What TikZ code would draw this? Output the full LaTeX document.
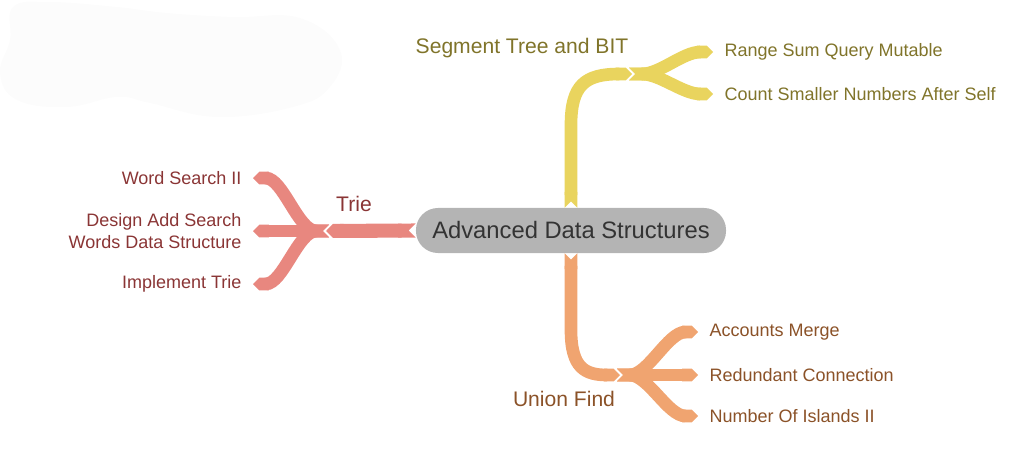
\documentclass[tikz,border=0pt]{standalone}
\usepackage{fontspec}
\setmainfont{Liberation Sans}
\usepackage{xcolor}
\usetikzlibrary{arrows.meta,positioning,calc}
\definecolor{segband}{HTML}{E9D45E}
\definecolor{segtext}{HTML}{80742A}
\definecolor{trieband}{HTML}{E8877F}
\definecolor{trietext}{HTML}{8A3535}
\definecolor{ufband}{HTML}{F0A470}
\definecolor{uftext}{HTML}{8B5228}
\definecolor{rootfill}{HTML}{B4B4B4}
\definecolor{roottext}{HTML}{333333}
\definecolor{cloudfill}{HTML}{FCFCFC}
\tikzset{
  band/.style={line width=9pt, line cap=butt, {Triangle Cap[reversed]}-{Triangle Cap}},
  leaf/.style={inner xsep=8pt, inner ysep=2pt, font=\fontsize{12.8}{15.6}\selectfont},
  branch/.style={font=\fontsize{15}{18}\selectfont}
}

\begin{document}
\begin{tikzpicture}[x=0.025cm, y=-0.025cm]
  \useasboundingbox (0,0) rectangle (1033,475);
  \fill[cloudfill] plot[smooth cycle, tension=0.7] coordinates {(13,7) (50,2) (117,7) (167,13) (233,17) (300,18) (340,50) (330,87) (293,107) (217,117) (150,103) (117,97) (67,107) (17,100) (0,73) (10,40)};

  \node[fill=rootfill, text=roottext, rounded corners=0.55cm, minimum width=7.75cm, minimum height=1.125cm, font=\fontsize{16.9}{20}\selectfont] (ads) at (571,230.5) {Advanced Data Structures};

  \coordinate (segJ) at (632,74);
  \coordinate (trieJ) at (326,231);
  \coordinate (ufJ) at (620,375);

  \node[branch, text=segtext] (segL) at (522,48) {Segment Tree and BIT};
  \node[branch, text=trietext] (trieL) at (354,204) {Trie};
  \node[branch, text=uftext] (ufL) at (564,399) {Union Find};

  \foreach \n/\y/\t in {segA/52/Range Sum Query Mutable, segB/94/Count Smaller Numbers After Self}
    \node[leaf, anchor=west, text=segtext] (\n) at (713,\y) {\t};
  \foreach \n/\y/\t in {ufA/332/Accounts Merge, ufB/375/Redundant Connection, ufC/416/Number Of Islands II}
    \node[leaf, anchor=west, text=uftext] (\n) at (698,\y) {\t};
  \foreach \n/\y/\t in {trieA/178/Word Search II, trieB/231/Design Add Search\\Words Data Structure, trieC/284/Implement Trie}
    \node[leaf, anchor=east, align=right, text=trietext] (\n) at (253,\y) {\t};

  \draw[band, segband] (ads.north) -- (571,125) .. controls (571,85) and (585,74) .. (segJ);
  \draw[band, trieband, line width=10pt] (ads.west) -- (trieJ);
  \draw[band, ufband] (ads.south) -- (571,330) .. controls (571,368) and (585,375) .. (ufJ);

  \foreach \n in {segA,segB}
    \draw[band, segband] ($(segJ)+(-3,0)$) .. controls ($(segJ)+(28,0)$) and ($(\n.west)+(-30,0)$) .. (\n.west);
  \foreach \n in {ufA,ufB,ufC}
    \draw[band, ufband] ($(ufJ)+(-3,0)$) .. controls ($(ufJ)+(28,0)$) and ($(\n.west)+(-30,0)$) .. (\n.west);
  \foreach \n in {trieA,trieB,trieC}
    \draw[band, trieband] ($(trieJ)+(3,0)$) .. controls ($(trieJ)+(-28,0)$) and ($(\n.east)+(30,0)$) .. (\n.east);
\end{tikzpicture}
\end{document}
